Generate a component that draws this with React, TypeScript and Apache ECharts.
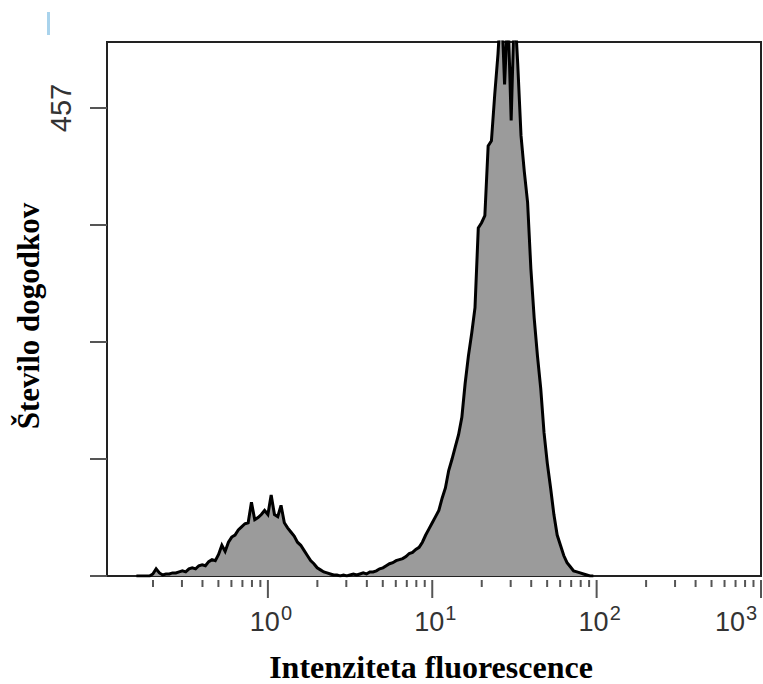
import React, { useEffect, useRef } from "react";
import * as echarts from "echarts";

// Histogram channels: log10 start and step of the bin centres (fluorescence)
const LOG_START = -0.8;
const LOG_STEP = 0.02;

// Event counts per channel
const counts = [
  0, 0, 0, 0, 0,
  2, 7, 3, 1, 2,
  2, 3, 3, 4, 5,
  4, 7, 8, 7, 10,
  11, 10, 14, 16, 15,
  21, 30, 24, 33, 38,
  40, 45, 48, 51, 52,
  72, 55, 57, 60, 64,
  60, 79, 60, 58, 69,
  52, 47, 43, 39, 33,
  30, 25, 20, 15, 12,
  8, 6, 4, 3, 2,
  1, 1, 0, 1, 0,
  1, 2, 1, 2, 3,
  2, 4, 4, 5, 7,
  8, 10, 12, 13, 15,
  16, 17, 19, 22, 23,
  26, 28, 33, 40, 46,
  52, 58, 64, 76, 86,
  103, 114, 126, 138, 155,
  188, 215, 237, 262, 340,
  345, 352, 420, 425, 470,
  510, 565, 480, 555, 445,
  560, 500, 430, 395, 365,
  300, 252, 215, 183, 140,
  110, 86, 60, 40, 30,
  20, 13, 9, 5, 4,
  3, 2, 1, 0, 0,
];

const majorTicks = [1, 10, 100, 1000];
const majorExponents = ["0", "1", "2", "3"];
const minorTicks = [
  0.2, 0.3, 0.4, 0.5, 0.6, 0.7, 0.8, 0.9,
  2, 3, 4, 5, 6, 7, 8, 9,
  20, 30, 40, 50, 60, 70, 80, 90,
  200, 300, 400, 500, 600, 700, 800, 900,
];

const Y_TICK_STEP = 114.25;
const Y_LABEL_VALUE = 457;
const Y_MAX = 521.5;
const X_MIN = 0.105;
const X_MAX = 1000;

const yTitle = "Število dogodkov";
const xTitle = "Intenziteta fluorescence";

export default function App() {
  const ref = useRef<HTMLDivElement>(null);

  useEffect(() => {
    if (!ref.current) return;
    const chart = echarts.init(ref.current, null, { renderer: "svg" });

    const histData = counts.map((c, i) => [Math.pow(10, LOG_START + i * LOG_STEP), c]);
    const tickData = [
      ...majorTicks.map((v) => [v, 1]),
      ...minorTicks.map((v) => [v, 0]),
    ];
    const labelData = majorTicks.map((v, i) => [v, i]);

    const option: any = {
      animation: false,
      backgroundColor: "#ffffff",
      grid: {
        left: 107,
        top: 42,
        right: 2,
        bottom: 108,
        show: true,
        borderColor: "#222",
        borderWidth: 2,
        backgroundColor: "transparent",
      },
      xAxis: {
        type: "log",
        logBase: 10,
        min: X_MIN,
        max: X_MAX,
        axisLine: { show: true, lineStyle: { color: "#222", width: 2 } },
        axisTick: { show: false },
        axisLabel: { show: false },
        splitLine: { show: false },
        minorTick: { show: false },
      },
      yAxis: {
        type: "value",
        min: 0,
        max: Y_MAX,
        interval: Y_TICK_STEP,
        axisLine: { show: true, lineStyle: { color: "#222", width: 2 } },
        axisTick: { show: true, length: 17, lineStyle: { color: "#555", width: 2 } },
        axisLabel: {
          show: true,
          formatter: (v: number) => (Math.abs(v - Y_LABEL_VALUE) < 0.01 ? String(Y_LABEL_VALUE) : ""),
          rotate: 90,
          fontSize: 29,
          fontFamily: "Liberation Sans, Arial, sans-serif",
          color: "#333",
          margin: 32,
          showMaxLabel: false,
        },
        splitLine: { show: false },
      },
      series: [
        {
          type: "line",
          data: histData,
          symbol: "none",
          clip: true,
          lineStyle: { color: "#000", width: 3, join: "miter" },
          areaStyle: { color: "#9b9b9b", opacity: 1 },
          silent: true,
          z: 2,
        },
        {
          type: "custom",
          data: tickData,
          silent: true,
          clip: false,
          z: 3,
          renderItem: (params: any, api: any) => {
            const v = api.value(0);
            const major = api.value(1) === 1;
            const p = api.coord([v, 0]);
            return {
              type: "line",
              shape: { x1: p[0], y1: p[1] + 4, x2: p[0], y2: p[1] + (major ? 22 : 11) },
              style: { stroke: "#555", lineWidth: 2 },
            };
          },
        },
        {
          type: "custom",
          data: labelData,
          silent: true,
          clip: false,
          z: 3,
          renderItem: (params: any, api: any) => {
            const v = api.value(0);
            const idx = api.value(1);
            const p = api.coord([v, 0]);
            const w = api.getWidth();
            let shift = 0;
            if (p[0] + 24 > w - 6) shift = p[0] + 24 - (w - 6);
            const bx = p[0] + 12 - shift;
            return {
              type: "group",
              children: [
                {
                  type: "text",
                  x: bx,
                  y: p[1] + 46,
                  style: {
                    text: "10",
                    fontSize: 27,
                    fontFamily: "Liberation Sans, Arial, sans-serif",
                    fill: "#333",
                    align: "right",
                    textAlign: "right",
                    verticalAlign: "middle",
                    textVerticalAlign: "middle",
                  },
                },
                {
                  type: "text",
                  x: bx + 1,
                  y: p[1] + 37,
                  style: {
                    text: majorExponents[idx],
                    fontSize: 20,
                    fontFamily: "Liberation Sans, Arial, sans-serif",
                    fill: "#333",
                    align: "left",
                    textAlign: "left",
                    verticalAlign: "middle",
                    textVerticalAlign: "middle",
                  },
                },
              ],
            };
          },
        },
      ],
      graphic: [
        {
          type: "rect",
          shape: { x: 47, y: 12, width: 3, height: 23 },
          style: { fill: "#a9d3ec" },
          silent: true,
        },
        {
          type: "text",
          x: 28,
          y: 316,
          rotation: Math.PI / 2,
          style: {
            text: yTitle,
            fontSize: 31,
            fontWeight: "bold",
            fontFamily: "Liberation Serif, Times New Roman, serif",
            fill: "#000",
            align: "center",
            textAlign: "center",
            verticalAlign: "middle",
            textVerticalAlign: "middle",
          },
          silent: true,
        },
        {
          type: "text",
          x: 431,
          y: 667,
          style: {
            text: xTitle,
            fontSize: 32,
            fontWeight: "bold",
            fontFamily: "Liberation Serif, Times New Roman, serif",
            fill: "#000",
            align: "center",
            textAlign: "center",
            verticalAlign: "middle",
            textVerticalAlign: "middle",
          },
          silent: true,
        },
      ],
    };

    chart.setOption(option);
    return () => chart.dispose();
  }, []);

  return <div ref={ref} style={{ width: 763, height: 684, position: "absolute", left: 0, top: 0 }} />;
}
